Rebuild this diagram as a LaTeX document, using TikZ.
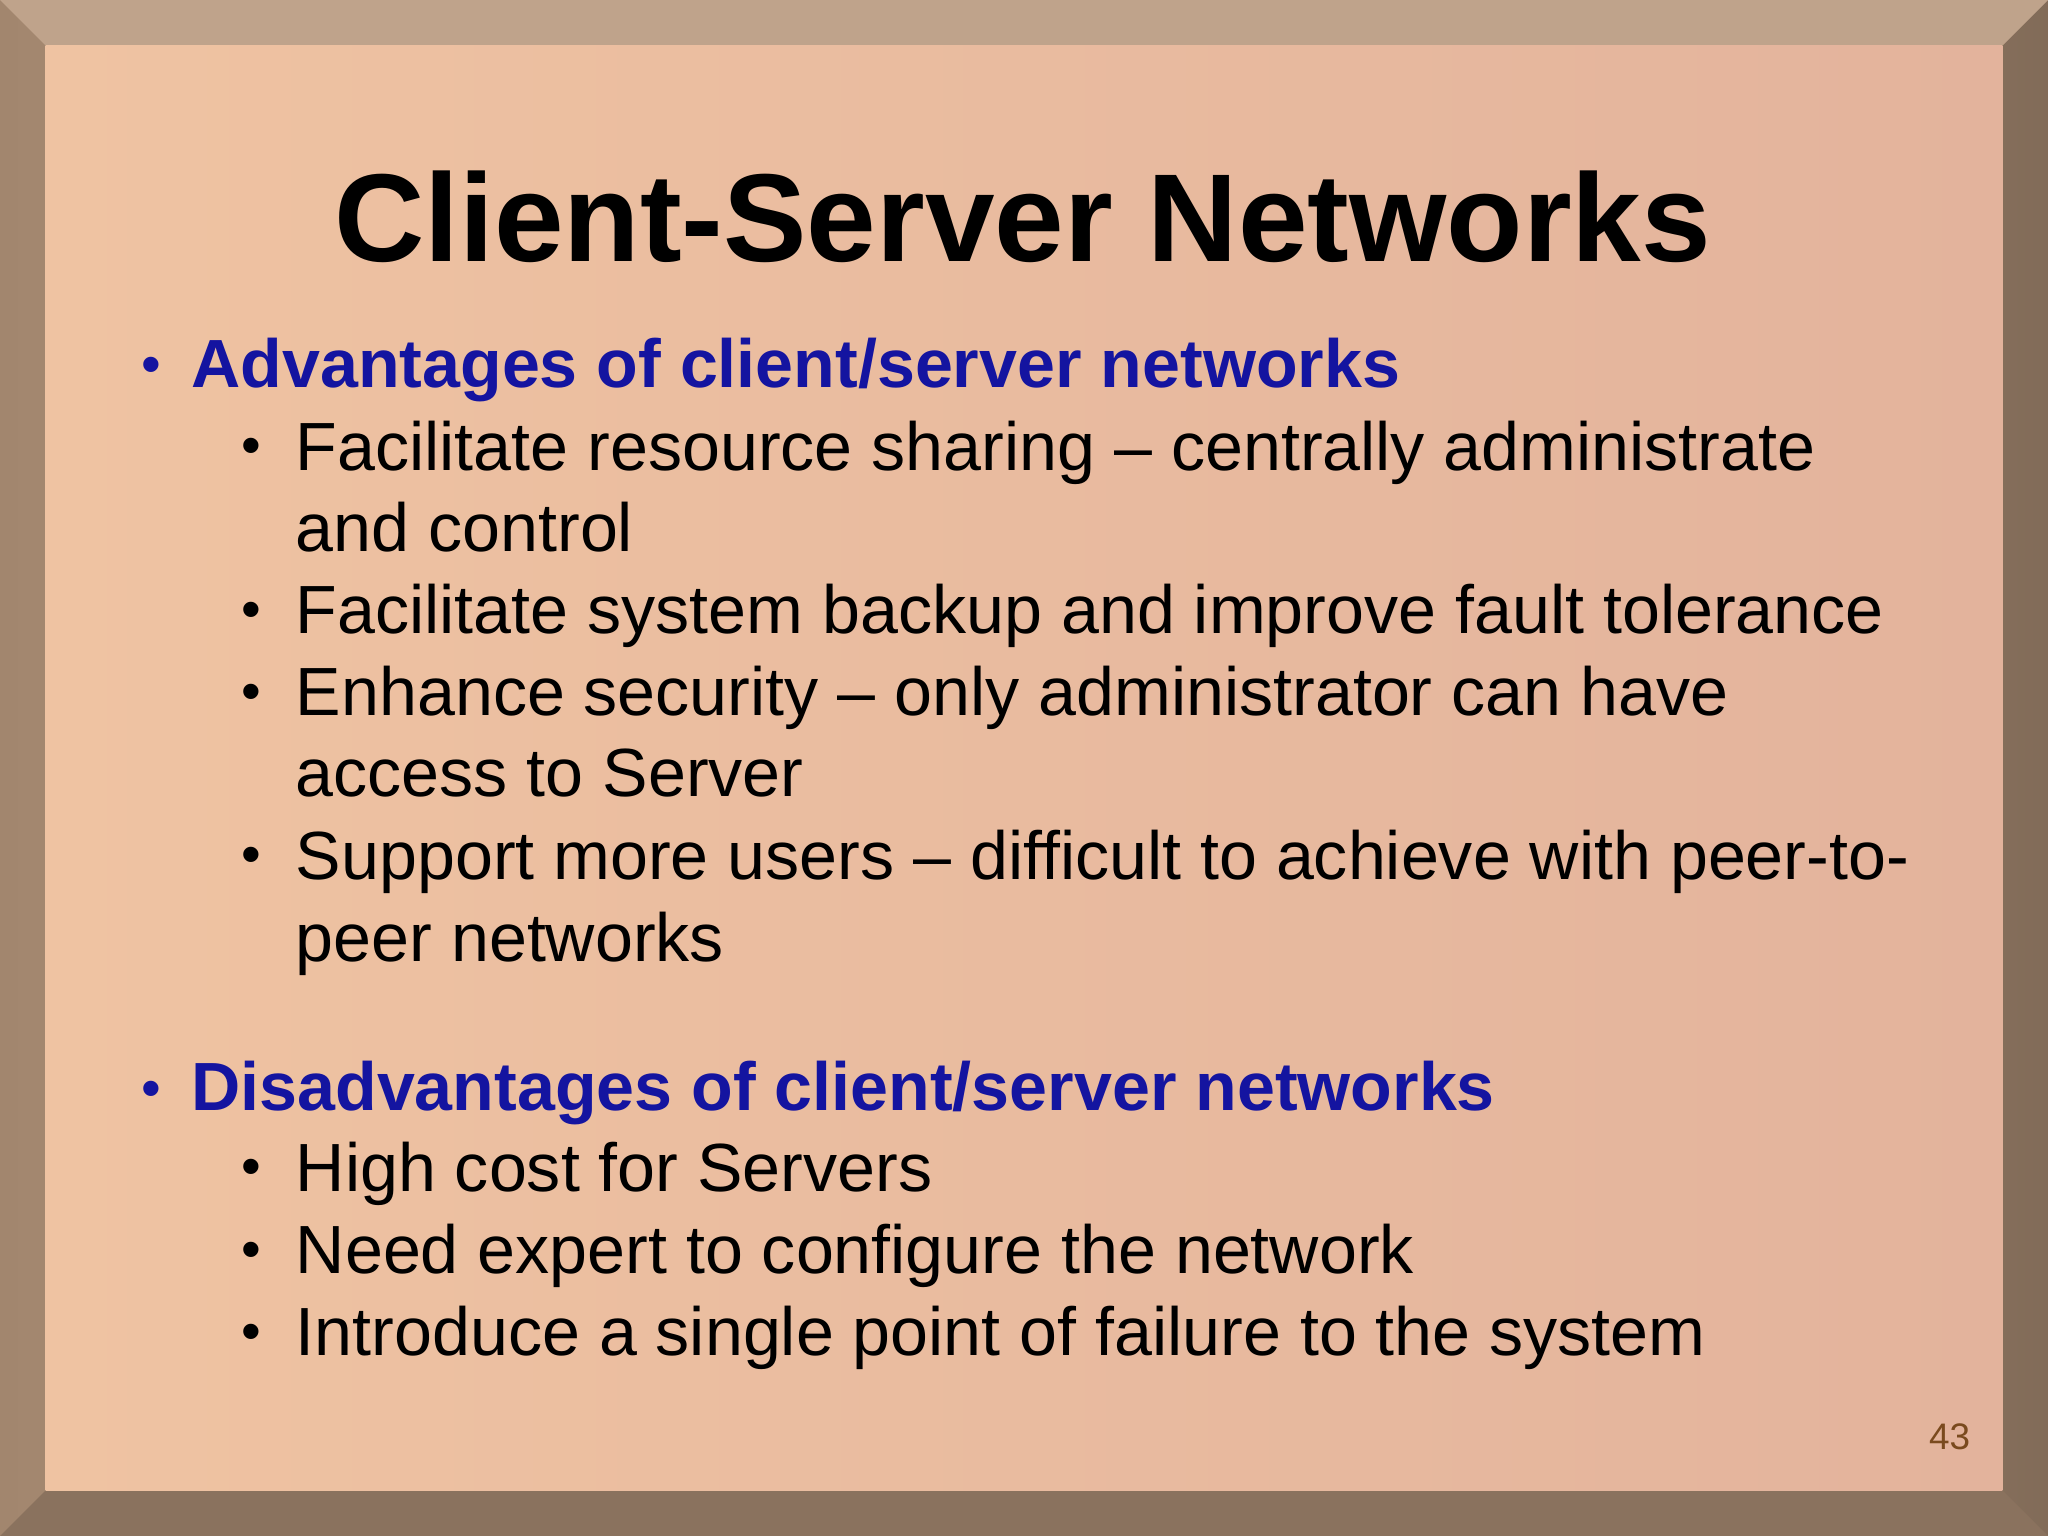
\documentclass[tikz,border=0pt]{standalone}
\usepackage{fontspec}
\setmainfont{Liberation Sans}
\definecolor{frame}{HTML}{A2866E}
\definecolor{framelight}{HTML}{BFA38B}
\definecolor{peach}{HTML}{EFC3A2}
\definecolor{peachdark}{HTML}{E3B39C}
\definecolor{head}{HTML}{1414A0}
\definecolor{pagenum}{HTML}{7A4A1E}
\tikzset{
  item/.style={anchor=base west,font=\fontsize{19.4}{19}\selectfont,inner sep=0pt},
  heading/.style={item,text=head,font=\fontsize{19.4}{19}\selectfont\bfseries},
  dot/.style={anchor=base west,inner sep=0pt,font=\fontsize{16}{16}\selectfont}
}
\begin{document}
\begin{tikzpicture}[x=0.01306cm,y=-0.01306cm]
\useasboundingbox (0,0) rectangle (1568,1176);
% frame
\shade[left color=frame,right color=frame!80!black,middle color=framelight] (0,0) rectangle (1568,1176);
\fill[framelight] (0,0) -- (1568,0) -- (1533,35) -- (35,35) -- cycle;
\fill[frame!85!black] (0,1176) -- (1568,1176) -- (1533,1141) -- (35,1141) -- cycle;
\shade[left color=peach,right color=peachdark] (35,35) rectangle (1533,1141);
% title
\node[anchor=base,inner sep=0pt,font=\fontsize{35.6}{35}\selectfont\bfseries] (title) at (783,200) {Client-Server Networks};
% advantages
\node[dot,text=head] (b1) at (108,294) {•};
\node[heading] (adv) at (146,297) {Advantages of client/server networks};
\foreach \y/\t [count=\i] in {360/{Facilitate resource sharing -- centrally administrate},
  485/{Facilitate system backup and improve fault tolerance},
  548/{Enhance security -- only administrator can have},
  673/{Support more users -- difficult to achieve with peer-to-},
  912/{High cost for Servers},
  975/{Need expert to configure the network},
  1038/{Introduce a single point of failure to the system}}
  {\node[dot] (d\i) at (184,\y-4) {•};
   \node[item] (it\i) at (226,\y) {\t};}
\node[item] (cont1) at (226,422) {and control};
\node[item] (cont2) at (226,610) {access to Server};
\node[item] (cont3) at (226,736) {peer networks};
% disadvantages
\node[dot,text=head] (b2) at (108,848) {•};
\node[heading] (dis) at (146,850) {Disadvantages of client/server networks};
\node[anchor=base east,inner sep=0pt,text=pagenum,font=\fontsize{10.5}{10}\selectfont] (page) at (1509,1110) {43};
\end{tikzpicture}
\end{document}
